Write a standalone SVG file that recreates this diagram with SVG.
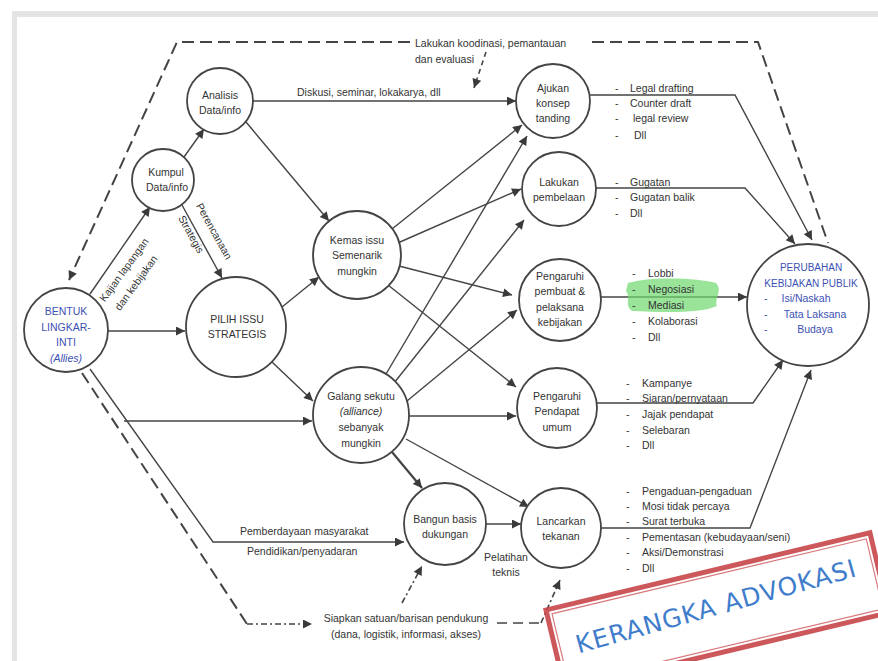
<svg xmlns="http://www.w3.org/2000/svg" width="878" height="661" viewBox="0 0 878 661">
<defs>
<style>
.t{font-family:"Liberation Sans",Arial,sans-serif;font-size:10.5px;fill:#333}
.c{text-anchor:middle}
.b{fill:#3c50b4}
.nd{fill:#fff;stroke:#444;stroke-width:1.8}
.ln{fill:none;stroke:#444;stroke-width:1.4}
.dl{fill:none;stroke:#444;stroke-width:2;stroke-dasharray:12 6}
.dd{fill:none;stroke:#444;stroke-width:1.6;stroke-dasharray:6 3 2 3}
.ds{fill:none;stroke:#444;stroke-width:1.6;stroke-dasharray:5 4}
</style>
<marker id="ah" viewBox="0 0 10 10" refX="10" refY="5" markerWidth="11" markerHeight="9" markerUnits="userSpaceOnUse" orient="auto">
<path d="M0,0 L10,5 L0,10 z" fill="#3a3a3a"/>
</marker>
</defs>
<rect x="0" y="0" width="878" height="661" fill="#fff"/>
<rect x="12" y="11" width="866" height="6" fill="#e4e4e4"/>
<rect x="12" y="11" width="5" height="650" fill="#e4e4e4"/>

<g id="connectors">
<path class="dl" d="M410,42 L177,42 L69,280" marker-end="url(#ah)"/>
<path class="dl" d="M592,42 L758,42 L828,243"/>
<path class="ds" d="M486,52 L474,88" marker-end="url(#ah)"/>
<path class="ln" d="M90,294 L150,207" marker-end="url(#ah)"/>
<path class="ln" d="M184,157 L204,129" marker-end="url(#ah)"/>
<path class="ln" d="M182,205 L222,278" marker-end="url(#ah)"/>
<path class="ln" d="M108,331 L185,331" marker-end="url(#ah)"/>
<path class="ln" d="M246,122 L329,221" marker-end="url(#ah)"/>
<path class="ln" d="M253,101 L516,101" marker-end="url(#ah)"/>
<path class="ln" d="M282,307 L319,277" marker-end="url(#ah)"/>
<path class="ln" d="M272,362 L313,401" marker-end="url(#ah)"/>
<path class="ln" d="M124,421 L312,421" marker-end="url(#ah)"/>
<path class="ln" d="M90,369 L213,542 L404,542" marker-end="url(#ah)"/>
<path class="dl" d="M82,373 L247,624"/>
<path class="dd" d="M247,624 L312,624" marker-end="url(#ah)"/>
<path class="ln" d="M392,229 L522,125" marker-end="url(#ah)"/>
<path class="ln" d="M386,374 L527,136" marker-end="url(#ah)"/>
<path class="ln" d="M400,242 L521,189" marker-end="url(#ah)"/>
<path class="ln" d="M394,383 L524,220" marker-end="url(#ah)"/>
<path class="ln" d="M399,266 L512,295" marker-end="url(#ah)"/>
<path class="ln" d="M388,285 L516,387" marker-end="url(#ah)"/>
<path class="ln" d="M407,401 L517,310" marker-end="url(#ah)"/>
<path class="ln" d="M409,416 L516,416" marker-end="url(#ah)"/>
<path class="ln" d="M392,452 L422,488" marker-end="url(#ah)" style="stroke-width:2.2"/>
<path class="ln" d="M406,439 L529,507" marker-end="url(#ah)"/>
<path class="ln" d="M486,524 L521,524" marker-end="url(#ah)"/>
<path class="dd" d="M402,603 L422,566" marker-end="url(#ah)"/>
<path class="ds" d="M497,623 L541,623" style="stroke-dasharray:10 6"/>
<path class="dd" d="M541,623 L560,580" marker-end="url(#ah)"/>
<path class="ln" d="M590,95 L735,95 L812,240" marker-end="url(#ah)"/>
<path class="ln" d="M596,188 L745,188 L795,244" marker-end="url(#ah)"/>
<path class="ln" d="M601,297 L747,297" marker-end="url(#ah)"/>
<path class="ln" d="M597,403 L753,403 L783,360" marker-end="url(#ah)"/>
<path class="ln" d="M601,528 L750,528 L811,370" marker-end="url(#ah)"/>
</g>

<g id="labels">
<text class="t" x="415" y="47">Lakukan koodinasi, pemantauan</text>
<text class="t" x="415" y="63">dan evaluasi</text>
<text class="t" x="297" y="96">Diskusi, seminar, lokakarya, dll</text>
<text class="t c" transform="translate(127,272) rotate(-54)">Kajian lapangan</text>
<text class="t c" transform="translate(139,285) rotate(-54)">dan kebijakan</text>
<text class="t c" transform="translate(211,233) rotate(61)">Perencanaan</text>
<text class="t c" transform="translate(188,236) rotate(61)">Strategis</text>
<text class="t" x="240" y="535">Pemberdayaan masyarakat</text>
<text class="t" x="247" y="555">Pendidikan/penyadaran</text>
<text class="t c" x="406" y="622">Siapkan satuan/barisan pendukung</text>
<text class="t c" x="406" y="638">(dana, logistik, informasi, akses)</text>
<text class="t c" x="506" y="561">Pelatihan</text>
<text class="t c" x="506" y="576">teknis</text>
</g>

<g id="lists">
<path d="M628,283 C650,276 700,278 716,283 C723,291 714,299 717,306 C700,314 660,312 632,311 C624,305 631,297 626,291 Z" fill="#6fd86f" opacity="0.7"/>
<g class="t">
<text x="615" y="92">-</text><text x="630" y="92">Legal drafting</text>
<text x="615" y="107">-</text><text x="630" y="107">Counter draft</text>
<text x="615" y="122">-</text><text x="633" y="122">legal review</text>
<text x="615" y="139">-</text><text x="634" y="139">Dll</text>
<text x="615" y="186">-</text><text x="630" y="186">Gugatan</text>
<text x="615" y="201">-</text><text x="630" y="201">Gugatan balik</text>
<text x="615" y="217">-</text><text x="630" y="217">Dll</text>
<text x="632" y="277">-</text><text x="648" y="277">Lobbi</text>
<text x="632" y="293">-</text><text x="648" y="293">Negosiasi</text>
<text x="632" y="309">-</text><text x="648" y="309">Mediasi</text>
<text x="632" y="325">-</text><text x="648" y="325">Kolaborasi</text>
<text x="632" y="341">-</text><text x="648" y="341">Dll</text>
<text x="626" y="387">-</text><text x="642" y="387">Kampanye</text>
<text x="626" y="402">-</text><text x="642" y="402">Siaran/pernyataan</text>
<text x="626" y="418">-</text><text x="642" y="418">Jajak pendapat</text>
<text x="626" y="434">-</text><text x="642" y="434">Selebaran</text>
<text x="626" y="449">-</text><text x="642" y="449">Dll</text>
<text x="626" y="495">-</text><text x="642" y="495">Pengaduan-pengaduan</text>
<text x="626" y="510">-</text><text x="642" y="510">Mosi tidak percaya</text>
<text x="626" y="525">-</text><text x="642" y="525">Surat terbuka</text>
<text x="626" y="541">-</text><text x="642" y="541">Pementasan (kebudayaan/seni)</text>
<text x="626" y="556">-</text><text x="642" y="556">Aksi/Demonstrasi</text>
<text x="626" y="572">-</text><text x="642" y="572">Dll</text>
</g>
</g>

<g id="analisis"><circle class="nd" cx="220" cy="101" r="33"/><text class="t c" x="220" y="99">Analisis</text><text class="t c" x="220" y="114">Data/info</text></g>
<g id="kumpul"><circle class="nd" cx="163" cy="180" r="31"/><text class="t c" x="166" y="176">Kumpul</text><text class="t c" x="167" y="191">Data/info</text></g>
<g id="bentuk"><circle class="nd" cx="66" cy="330" r="42"/>
<text class="t c b" x="66" y="315">BENTUK</text><text class="t c b" x="66" y="331">LINGKAR-</text><text class="t c b" x="66" y="346">INTI</text><text class="t c b" x="66" y="362" font-style="italic">(Allies)</text></g>
<g id="pilih"><circle class="nd" cx="236" cy="327" r="50"/><text class="t c" x="237" y="323">PILIH ISSU</text><text class="t c" x="237" y="338">STRATEGIS</text></g>
<g id="kemas"><circle class="nd" cx="357" cy="255" r="44"/><text class="t c" x="357" y="244">Kemas issu</text><text class="t c" x="357" y="259">Semenarik</text><text class="t c" x="357" y="275">mungkin</text></g>
<g id="galang"><circle class="nd" cx="361" cy="415" r="48"/><text class="t c" x="361" y="400">Galang sekutu</text><text class="t c" x="361" y="415" font-style="italic">(alliance)</text><text class="t c" x="361" y="431">sebanyak</text><text class="t c" x="361" y="447">mungkin</text></g>
<g id="bangun"><circle class="nd" cx="445" cy="524" r="41"/><text class="t c" x="445" y="523">Bangun basis</text><text class="t c" x="445" y="538">dukungan</text></g>
<g id="lancarkan"><circle class="nd" cx="561" cy="528" r="40"/><text class="t c" x="561" y="525">Lancarkan</text><text class="t c" x="561" y="540">tekanan</text></g>
<g id="ajukan"><circle class="nd" cx="553" cy="101" r="37"/><text class="t c" x="553" y="92">Ajukan</text><text class="t c" x="553" y="107">konsep</text><text class="t c" x="553" y="122">tanding</text></g>
<g id="lakukan"><circle class="nd" cx="559" cy="189" r="37"/><text class="t c" x="559" y="186">Lakukan</text><text class="t c" x="559" y="201">pembelaan</text></g>
<g id="pembuat"><circle class="nd" cx="560" cy="300" r="41"/><text class="t c" x="560" y="280">Pengaruhi</text><text class="t c" x="560" y="295">pembuat &amp;</text><text class="t c" x="560" y="311">pelaksana</text><text class="t c" x="560" y="326">kebijakan</text></g>
<g id="pendapat"><circle class="nd" cx="557" cy="408" r="40"/><text class="t c" x="557" y="400">Pengaruhi</text><text class="t c" x="557" y="415">Pendapat</text><text class="t c" x="557" y="431">umum</text></g>
<g id="perubahan"><circle class="nd" cx="808" cy="305" r="61"/>
<text class="t c b" x="811" y="271" style="font-size:10px">PERUBAHAN</text>
<text class="t c b" x="811" y="287" style="font-size:10px">KEBIJAKAN PUBLIK</text>
<text class="t b" x="764" y="302">-</text><text class="t c b" x="806" y="302">Isi/Naskah</text>
<text class="t b" x="764" y="318">-</text><text class="t c b" x="815" y="318">Tata Laksana</text>
<text class="t b" x="764" y="333">-</text><text class="t c b" x="815" y="333">Budaya</text></g>

<g id="stamp">
<g transform="rotate(-13.4 546 610)">
<rect x="546" y="610" width="333" height="82" fill="#fff" stroke="#c8474b" stroke-width="5" opacity="0.9"/>
<rect x="551" y="615" width="323" height="72" fill="none" stroke="#d8787b" stroke-width="1.2"/>
</g>
<text x="716" y="615" text-anchor="middle" transform="rotate(-15.5 716 606)" style="font-family:'DejaVu Sans',sans-serif;font-size:25px;fill:#3f7dcc;letter-spacing:1px">KERANGKA ADVOKASI</text>
</g>
</svg>
